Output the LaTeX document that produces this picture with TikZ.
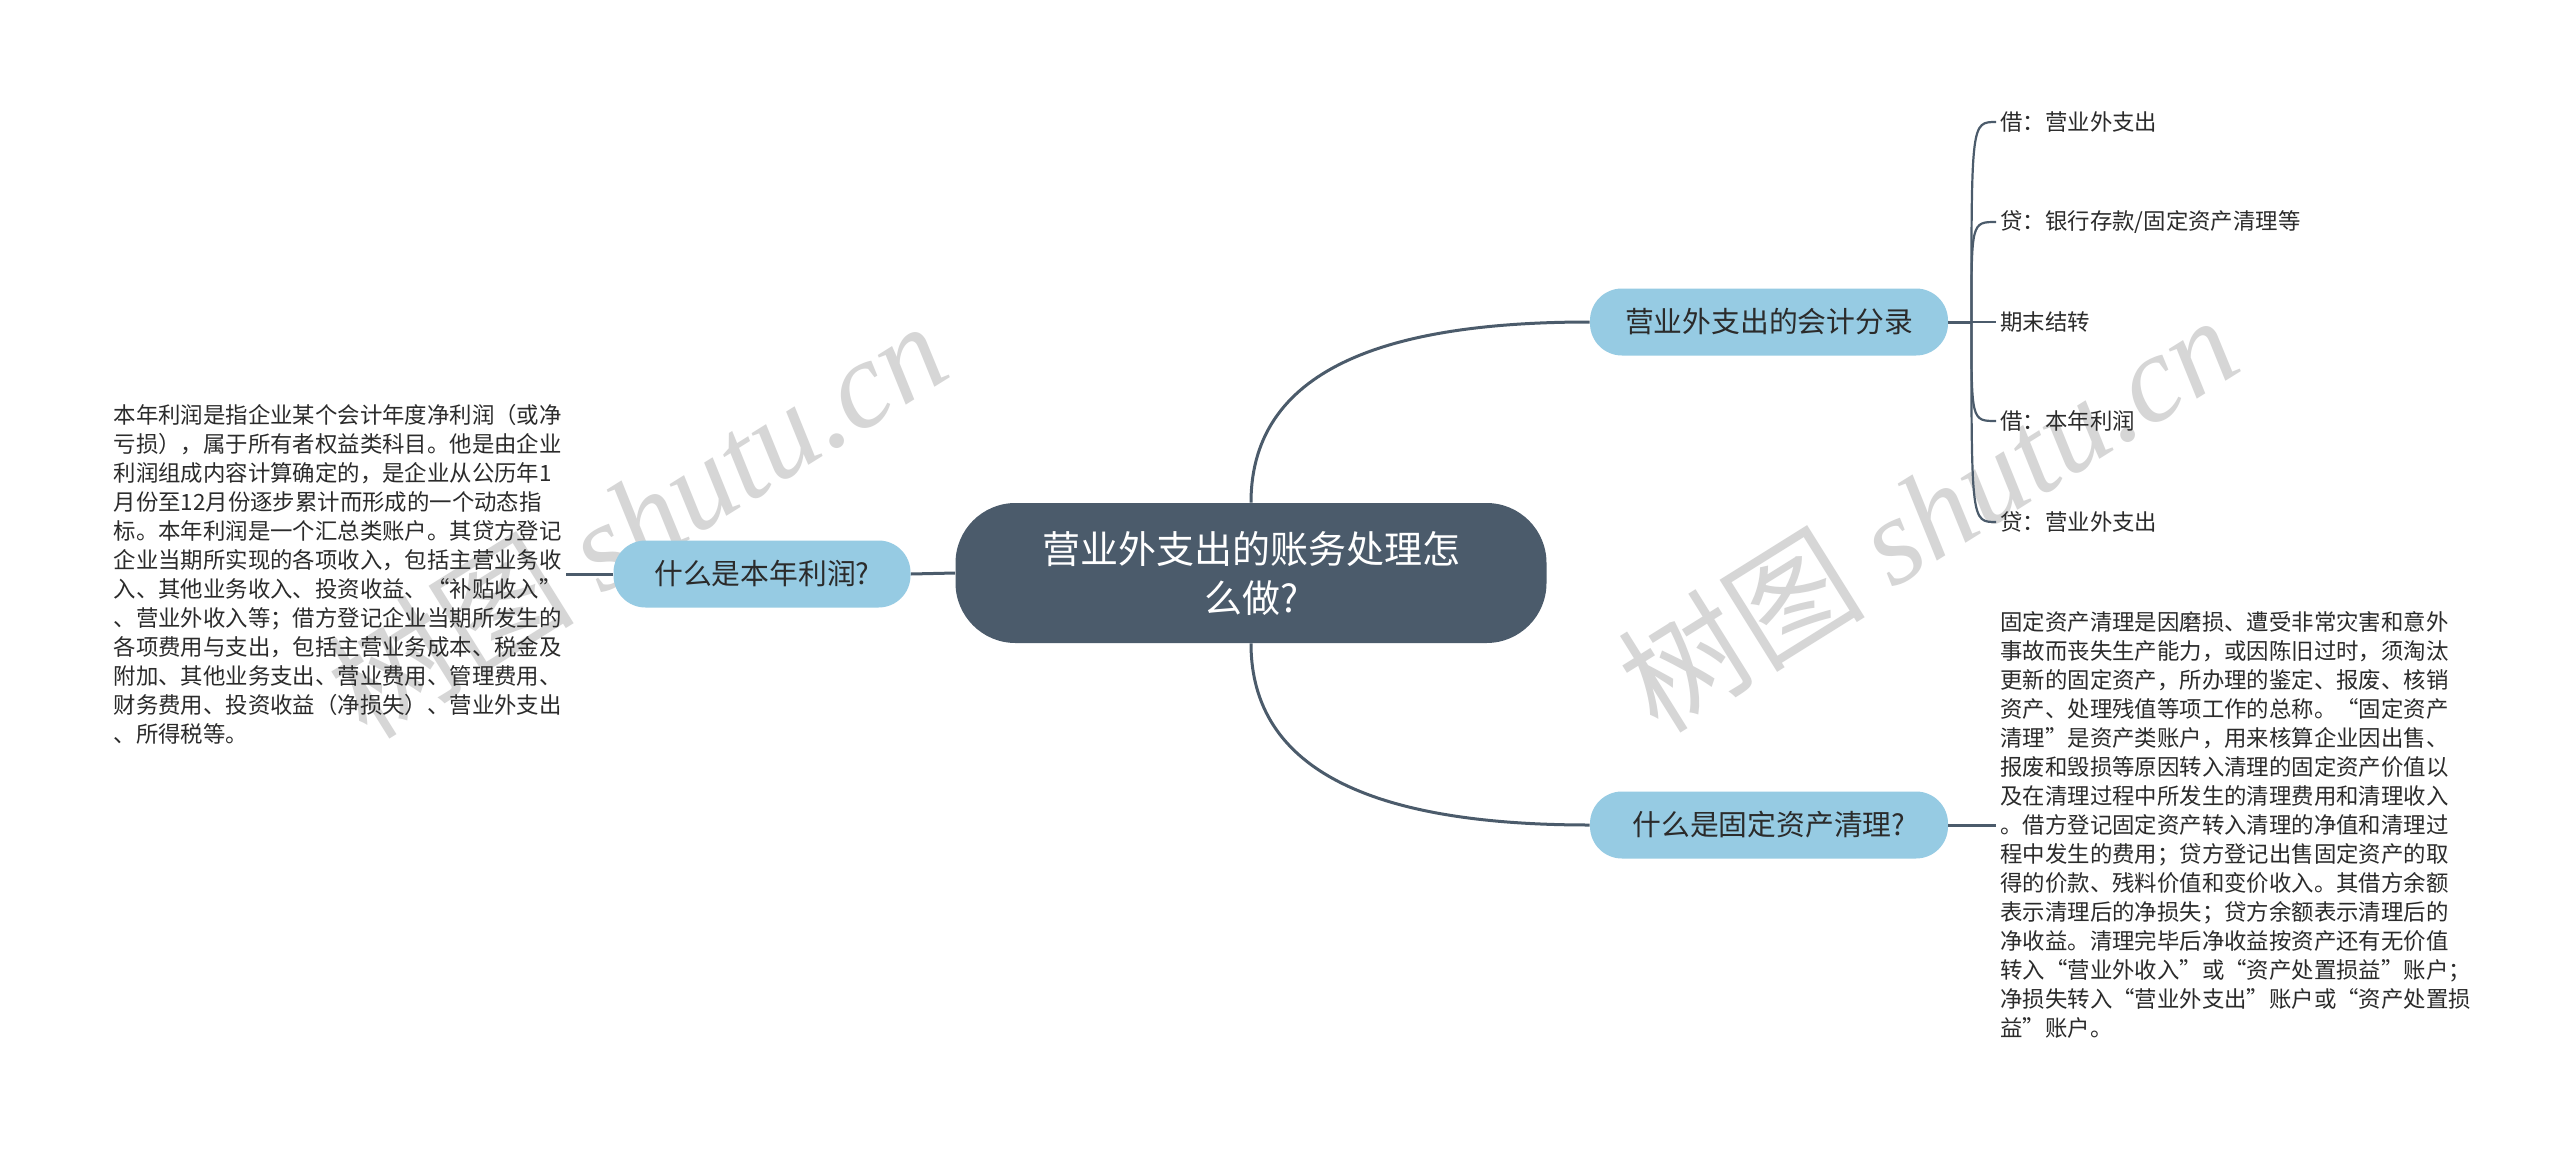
\documentclass[tikz,border=0pt]{standalone}
\usepackage{fontspec}
\setmainfont{Noto Sans CJK SC}
\newfontfamily\cjk{Noto Sans CJK SC}
\newfontfamily\wmserif{Liberation Serif}
\usetikzlibrary{calc}
\definecolor{slate}{HTML}{4B5B6B}
\definecolor{lblue}{HTML}{96CBE3}
\definecolor{txt}{HTML}{2B2B2B}
\definecolor{wm}{HTML}{D6D6D6}
\tikzset{
  rootbox/.style={fill=slate, text=white, rounded corners=30pt, minimum width=295.5pt, minimum height=70pt, inner sep=0pt, align=center, font=\fontsize{19}{24.5}\selectfont},
  midbox/.style={fill=lblue, text=txt, rounded corners=16pt, minimum width=179pt, minimum height=33.5pt, inner sep=0pt, font=\fontsize{14.4}{17}\selectfont},
  leafbox/.style={anchor=west, inner sep=2pt, text=txt, font=\fontsize{11.2}{14.5}\selectfont},
  parabox/.style={align=left, inner sep=2pt, text=txt, font=\fontsize{11.2}{14.5}\selectfont},
  conn/.style={draw=slate, line width=1.5pt},
  thinconn/.style={draw=slate, line width=1.1pt},
  wmark/.style={text=wm, inner sep=0pt, rotate=32, font=\fontsize{62}{62}\selectfont}
}
\begin{document}
\begin{tikzpicture}[x=0.5pt, y=-0.5pt]
\fill[white] (0,0) rectangle (2560,1151);
\useasboundingbox (0,0) rectangle (2560,1151);
% watermarks
\node[wmark] (wm1) at (636,518) {{\cjk 树图} {\wmserif\itshape shutu.cn}};
\node[wmark] (wm2) at (1927,512) {{\cjk 树图} {\wmserif\itshape shutu.cn}};
% nodes
\node[rootbox] (c) at (1251,573) {营业外支出的账务处理怎\\么做?};
\node[midbox, minimum width=148.5pt] (l) at (762,574) {什么是本年利润?};
\node[midbox] (r1) at (1769,322) {营业外支出的会计分录};
\node[midbox] (r2) at (1769,825) {什么是固定资产清理?};
\node[parabox, anchor=east] (lt) at (566,574) {本年利润是指企业某个会计年度净利润（或净\\亏损），属于所有者权益类科目。他是由企业\\利润组成内容计算确定的，是企业从公历年1\\月份至12月份逐步累计而形成的一个动态指\\标。本年利润是一个汇总类账户。其贷方登记\\企业当期所实现的各项收入，包括主营业务收\\入、其他业务收入、投资收益、“补贴收入”\\、营业外收入等；借方登记企业当期所发生的\\各项费用与支出，包括主营业务成本、税金及\\附加、其他业务支出、营业费用、管理费用、\\财务费用、投资收益（净损失）、营业外支出\\、所得税等。};
\node[parabox, anchor=west] (rt) at (1996,825) {固定资产清理是因磨损、遭受非常灾害和意外\\事故而丧失生产能力，或因陈旧过时，须淘汰\\更新的固定资产，所办理的鉴定、报废、核销\\资产、处理残值等项工作的总称。“固定资产\\清理”是资产类账户，用来核算企业因出售、\\报废和毁损等原因转入清理的固定资产价值以\\及在清理过程中所发生的清理费用和清理收入\\。借方登记固定资产转入清理的净值和清理过\\程中发生的费用；贷方登记出售固定资产的取\\得的价款、残料价值和变价收入。其借方余额\\表示清理后的净损失；贷方余额表示清理后的\\净收益。清理完毕后净收益按资产还有无价值\\转入“营业外收入”或“资产处置损益”账户；\\净损失转入“营业外支出”账户或“资产处置损\\益”账户。};
\node[leafbox] (a1) at (1996,122) {借：营业外支出};
\node[leafbox] (a2) at (1996,222) {贷：银行存款/固定资产清理等};
\node[leafbox] (a3) at (1996,322) {期末结转};
\node[leafbox] (a4) at (1996,421) {借：本年利润};
\node[leafbox] (a5) at (1996,522) {贷：营业外支出};
\coordinate (J) at ($(r1.east)+(23,0)$);
% connectors
\draw[conn] (c.north) .. controls ($(c.north)+(0,-140)$) and ($(r1.west)+(-190,0)$) .. (r1.west);
\draw[conn] (c.south) .. controls ($(c.south)+(0,140)$) and ($(r2.west)+(-190,0)$) .. (r2.west);
\draw[conn] (c.west) -- (l.east);
\draw[conn] (l.west) -- (lt.east);
\draw[conn] (r2.east) -- (rt.west);
\draw[conn] (r1.east) -- (J);
\draw[thinconn] (J) -- (a3.west);
\foreach \n in {a1,a2,a4,a5}{
  \draw[thinconn] (J) .. controls (J |- \n.west) and (J |- \n.west) .. (\n.west);
}
\end{tikzpicture}
\end{document}
